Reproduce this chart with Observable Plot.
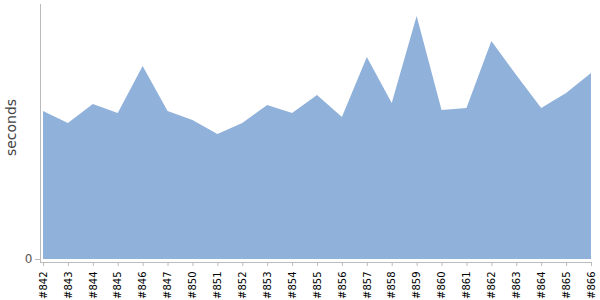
<!DOCTYPE html>
<html>
<head>
<meta charset="utf-8">
<script src="https://cdn.jsdelivr.net/npm/d3@7"></script>
<script src="https://cdn.jsdelivr.net/npm/@observablehq/plot@0.6"></script>
<style>
  html, body { margin: 0; padding: 0; background: #fff; }
  svg { display: block; }
</style>
</head>
<body>
<div id="chart"></div>
<script>
const builds = ["#842","#843","#844","#845","#846","#847","#850","#851","#852","#853","#854","#855","#856","#857","#858","#859","#860","#861","#862","#863","#864","#865","#866"];
const seconds = [148,136,155,146,193,148,139,125,136,154,146,164,142,202,156,243,149,151,218,184,151,166,186];
const yTicks = [0];
const yMax = 255;

const data = builds.map((b, i) => ({index: i, build: b, value: seconds[i]}));
const xTicks = builds.map((b, i) => i);

const chart = Plot.plot({
  width: 600,
  height: 300,
  marginTop: 4,
  marginLeft: 40,
  marginRight: 9,
  marginBottom: 38,
  style: {fontFamily: "DejaVu Sans", background: "#fff"},
  x: {type: "linear", domain: [0, builds.length - 1], insetLeft: 3},
  y: {domain: [0, yMax], insetBottom: 3},
  marks: [
    Plot.areaY(data, {x: "index", y: "value", fill: "#8fb1da", curve: "linear"}),
    Plot.frame({anchor: "left", stroke: "#bbb"}),
    Plot.frame({anchor: "bottom", stroke: "#bbb"}),
    Plot.axisY({ticks: yTicks, tickSize: 5, tickPadding: 3, label: null, fontSize: 12, color: "#555", stroke: "#bbb"}),
    Plot.axisX({ticks: xTicks, tickFormat: i => builds[i], tickSize: 4, tickRotate: -90, tickPadding: 5, label: null, fontSize: 10, fill: "#000", stroke: "#bbb"}),
    Plot.text(["seconds"], {frameAnchor: "left", textAnchor: "middle", dx: -29, dy: -6, rotate: -90, fontSize: 14, fill: "#444"})
  ]
});
document.getElementById("chart").appendChild(chart);
</script>
</body>
</html>
